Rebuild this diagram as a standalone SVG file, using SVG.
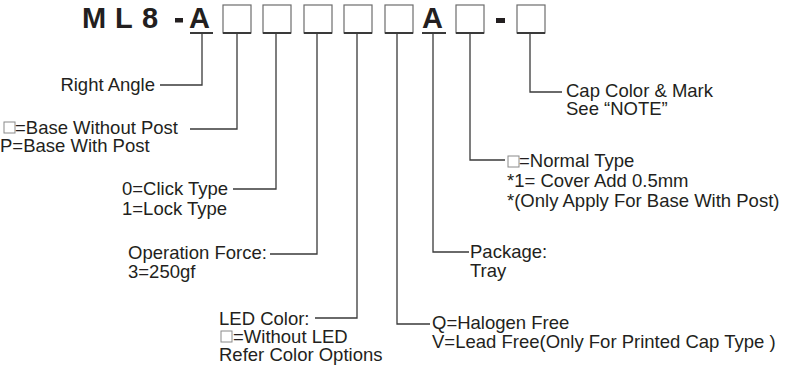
<svg xmlns="http://www.w3.org/2000/svg" width="787" height="370" viewBox="0 0 787 370">
<style>
  .t { font-family: "Liberation Sans", Arial, sans-serif; font-size: 18.5px; fill: #231f20; }
  .title { font-family: "Liberation Sans", Arial, sans-serif; font-size: 29px; font-weight: bold; fill: #231f20; }
  .box { fill: #fff; stroke: #6d6d6d; stroke-width: 1.2; }
  .boxb { stroke: #3a3a3a; stroke-width: 2; }
  .sbox { fill: #fff; stroke: #8a8a8a; stroke-width: 1; }
  .ln { fill: none; stroke: #3a3a3a; stroke-width: 1.3; }
</style>
<rect width="787" height="370" fill="#fff"/>
<g id="title">
  <text class="title" x="82" y="28">M</text>
  <text class="title" x="115" y="28">L</text>
  <text class="title" x="142" y="28">8</text>
  <rect x="175" y="18" width="8" height="4.5" fill="#231f20"/>
  <text class="title" x="189" y="28">A</text>
  <line class="boxb" x1="190" y1="33" x2="213" y2="33"/>
  <rect class="box" x="223" y="5" width="28" height="28"/>
  <line class="boxb" x1="223" y1="33" x2="251" y2="33"/>
  <rect class="box" x="263" y="5" width="28" height="28"/>
  <line class="boxb" x1="263" y1="33" x2="291" y2="33"/>
  <rect class="box" x="304" y="5" width="28" height="28"/>
  <line class="boxb" x1="304" y1="33" x2="332" y2="33"/>
  <rect class="box" x="344" y="5" width="28" height="28"/>
  <line class="boxb" x1="344" y1="33" x2="372" y2="33"/>
  <rect class="box" x="385" y="5" width="28" height="28"/>
  <line class="boxb" x1="385" y1="33" x2="413" y2="33"/>
  <text class="title" x="422" y="28">A</text>
  <line class="boxb" x1="422" y1="33" x2="446" y2="33"/>
  <rect class="box" x="456" y="5" width="28" height="28"/>
  <line class="boxb" x1="456" y1="33" x2="484" y2="33"/>
  <rect x="496" y="18" width="9" height="5" fill="#231f20"/>
  <rect class="box" x="517" y="5" width="28" height="28"/>
  <line class="boxb" x1="517" y1="33" x2="545" y2="33"/>
</g>
<g id="connectors">
  <path class="ln" d="M202,34 V85 H160"/>
  <path class="ln" d="M237,34 V129 H190"/>
  <path class="ln" d="M276,34 V189 H233"/>
  <path class="ln" d="M317,34 V254 H270"/>
  <path class="ln" d="M357,34 V318 H315"/>
  <path class="ln" d="M397,34 V324 H430"/>
  <path class="ln" d="M433,34 V252 H469"/>
  <path class="ln" d="M470,34 V160 H505"/>
  <path class="ln" d="M530,34 V92 H562"/>
</g>
<g id="right-angle">
  <text class="t" x="155" y="91" text-anchor="end">Right Angle</text>
</g>
<g id="base">
  <rect class="sbox" x="4" y="122" width="11" height="11"/>
  <text class="t" x="15" y="134">=Base Without Post</text>
  <text class="t" x="0" y="152">P=Base With Post</text>
</g>
<g id="click">
  <text class="t" x="122" y="195">0=Click Type</text>
  <text class="t" x="122" y="215">1=Lock Type</text>
</g>
<g id="force">
  <text class="t" x="128" y="259">Operation Force:</text>
  <text class="t" x="128" y="278">3=250gf</text>
</g>
<g id="led">
  <text class="t" x="219" y="325">LED Color:</text>
  <rect class="sbox" x="221" y="331" width="11" height="11"/>
  <text class="t" x="233" y="343">=Without LED</text>
  <text class="t" x="219" y="361">Refer Color Options</text>
</g>
<g id="halogen">
  <text class="t" x="432" y="329">Q=Halogen Free</text>
  <text class="t" x="432" y="348">V=Lead Free(Only For Printed Cap Type )</text>
</g>
<g id="package">
  <text class="t" x="470" y="258">Package:</text>
  <text class="t" x="470" y="277">Tray</text>
</g>
<g id="cover">
  <rect class="sbox" x="508" y="156" width="11" height="11"/>
  <text class="t" x="519" y="167">=Normal Type</text>
  <text class="t" x="507" y="187">*1= Cover Add 0.5mm</text>
  <text class="t" x="507" y="207">*(Only Apply For Base With Post)</text>
</g>
<g id="cap">
  <text class="t" x="566" y="97">Cap Color &amp; Mark</text>
  <text class="t" x="566" y="115">See “NOTE”</text>
</g>
</svg>
